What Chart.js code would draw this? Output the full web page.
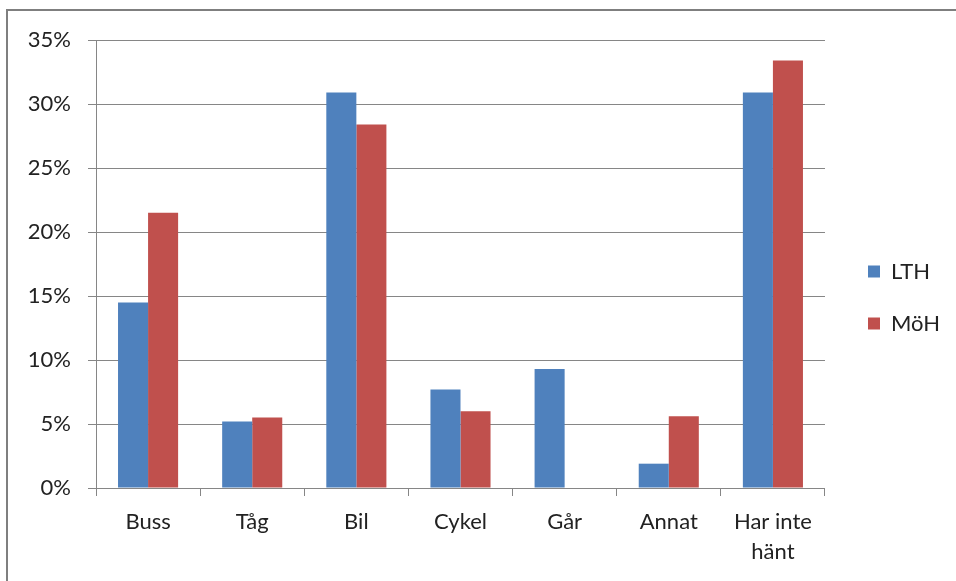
<!DOCTYPE html>
<html>
<head>
<meta charset="utf-8">
<script src="https://cdn.jsdelivr.net/npm/chart.js@4/dist/chart.umd.min.js"></script>
<style>
  html, body { margin: 0; padding: 0; background: #fff; }
  #wrap { position: relative; width: 956px; height: 581px; }
</style>
</head>
<body>
<div id="wrap"><canvas id="travelChart"></canvas></div>
<script>
const categories = ["Buss", "Tåg", "Bil", "Cykel", "Går", "Annat", ["Har inte", "hänt"]];
const lthValues = [14.5, 5.2, 30.9, 7.7, 9.3, 1.9, 30.9];
const mohValues = [21.5, 5.5, 28.4, 6.0, 0, 5.6, 33.4];
const yTicks = [0, 5, 10, 15, 20, 25, 30, 35];

const gridGray = "#868686";
const textColor = "#222";
const baseFont = { family: "Lato, 'Open Sans', sans-serif", size: 22, lineHeight: 1.36 };

// outer frame like the spreadsheet chart border
const frame = {
  id: "frame",
  beforeDraw(chart) {
    const c = chart.ctx;
    c.save();
    c.fillStyle = "#fff";
    c.fillRect(0, 0, chart.width, chart.height);
    c.fillStyle = "#7f7f7f";
    c.fillRect(6, 9, chart.width - 6, 2);
    c.fillRect(6, 9, 2, chart.height - 9);
    c.restore();
  },
};

// nudge the legend away from the plot and up a little
const legendShift = {
  id: "legendShift",
  afterLayout(chart) {
    const l = chart.legend;
    l.left += 13;
    l.right += 13;
    l.top -= 13;
    l.bottom -= 13;
  },
};

const ctx = document.getElementById("travelChart").getContext("2d");

new Chart(ctx, {
  type: "bar",
  data: {
    labels: categories,
    datasets: [
      {
        label: "LTH",
        data: lthValues,
        backgroundColor: "#4f81bd",
        categoryPercentage: 0.577,
        barPercentage: 1,
      },
      {
        label: "MöH",
        data: mohValues,
        backgroundColor: "#c0504d",
        categoryPercentage: 0.577,
        barPercentage: 1,
      },
    ],
  },
  options: {
    responsive: true,
    maintainAspectRatio: false,
    animation: false,
    layout: {
      padding: { left: 0, top: 40, right: 19, bottom: 0 },
    },
    scales: {
      x: {
        grid: {
          display: true,
          drawOnChartArea: false,
          color: gridGray,
          tickLength: 8,
        },
        border: { color: gridGray },
        ticks: {
          color: textColor,
          font: baseFont,
          padding: 11,
          maxRotation: 0,
          autoSkip: false,
        },
        afterFit(scale) {
          scale.height = 93;
        },
      },
      y: {
        min: 0,
        max: 35,
        afterBuildTicks(scale) {
          scale.ticks = yTicks.map((v) => ({ value: v }));
        },
        grid: {
          color: gridGray,
          tickLength: 8,
        },
        border: { color: gridGray },
        ticks: {
          color: textColor,
          font: baseFont,
          padding: 17,
          callback: (v) => v + "%",
        },
        afterFit(scale) {
          scale.width = 96;
        },
      },
    },
    plugins: {
      legend: {
        display: true,
        position: "right",
        labels: {
          color: textColor,
          font: baseFont,
          boxWidth: 12,
          boxHeight: 12,
          padding: 30,
        },
      },
      tooltip: { enabled: false },
    },
  },
  plugins: [frame, legendShift],
});
</script>
</body>
</html>
